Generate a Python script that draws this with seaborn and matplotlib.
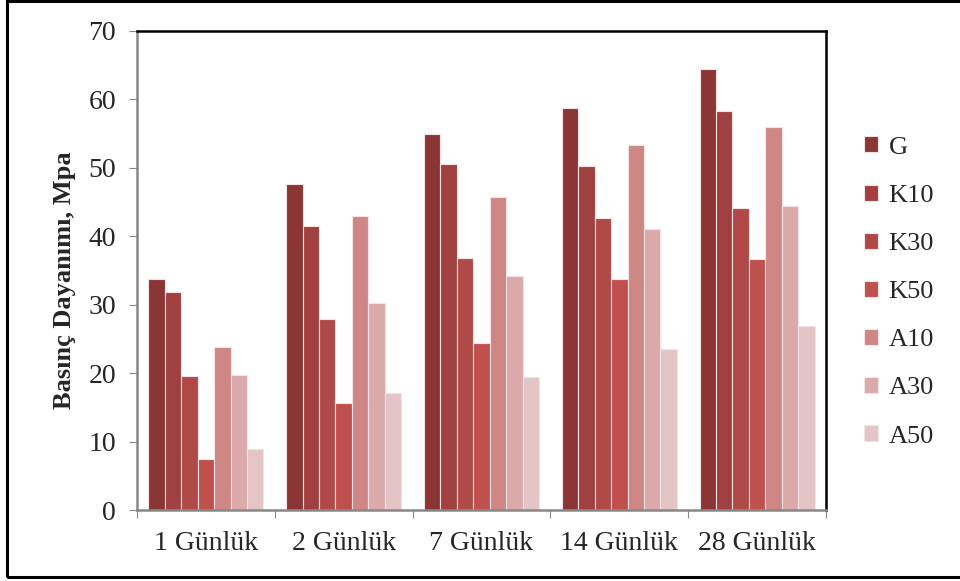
import matplotlib
matplotlib.use("Agg")
import matplotlib.pyplot as plt
import seaborn as sns
import pandas as pd
from matplotlib.patches import Rectangle

# Data
days = ["1 Günlük", "2 Günlük", "7 Günlük", "14 Günlük", "28 Günlük"]
mixes = ["G", "K10", "K30", "K50", "A10", "A30", "A50"]
G = [33.7, 47.6, 54.9, 58.8, 64.4]
K10 = [31.9, 41.5, 50.6, 50.2, 58.3]
K30 = [19.6, 27.9, 36.8, 42.7, 44.2]
K50 = [7.5, 15.6, 24.4, 33.7, 36.7]
A10 = [23.8, 42.9, 45.8, 53.4, 55.9]
A30 = [19.7, 30.2, 34.2, 41.0, 44.4]
A50 = [8.9, 17.1, 19.4, 23.5, 26.9]
colors = ["#8B3535", "#A04040", "#B04A48", "#C0504D", "#CF8786", "#DBA9A9", "#E4C5C6"]

series = [G, K10, K30, K50, A10, A30, A50]
rows = []
for name, vals in zip(mixes, series):
    for d, v in zip(days, vals):
        rows.append({"day": d, "mix": name, "value": v})
df = pd.DataFrame(rows)

sns.set_style("white")
plt.rcParams["font.family"] = ["Liberation Serif", "DejaVu Serif"]

fig = plt.figure(figsize=(9.6, 5.81), dpi=100)
ax = fig.add_axes([137 / 960, 1 - 510 / 581, (826 - 137) / 960, (510 - 31) / 581])

sns.barplot(data=df, x="day", y="value", hue="mix", order=days, hue_order=mixes,
            palette=colors, width=0.835, gap=0, saturation=1, ax=ax,
            edgecolor="#f2e4e4", linewidth=0.8, legend=True)

ax.set_ylim(0, 70)
ax.set_xlim(-0.5, 4.5)
ax.set_yticks(range(0, 71, 10))
ax.tick_params(axis="y", labelsize=20, length=6, color="#888888", direction="out", left=True, pad=9)

# category boundaries as major ticks, labels on minor ticks
ax.set_xticks([i - 0.5 for i in range(6)])
ax.set_xticklabels([])
ax.set_xticks(range(5), minor=True)
ax.set_xticklabels(days, minor=True)
ax.tick_params(axis="x", which="major", length=6, color="#888888", direction="out", bottom=True)
ax.tick_params(axis="x", which="minor", length=0, labelsize=20, pad=15)

ax.set_xlabel("")
ax.set_ylabel("Basınç Dayanımı, Mpa", fontsize=19, fontweight="bold")
ax.yaxis.set_label_coords(-0.088, 0.48)

for s in ["left", "bottom"]:
    ax.spines[s].set_color("#888888")
    ax.spines[s].set_linewidth(1.8)
for s in ["top", "right"]:
    ax.spines[s].set_visible(True)
    ax.spines[s].set_color("black")
    ax.spines[s].set_linewidth(1.8)

leg = ax.legend(loc="center left", bbox_to_anchor=(1.02, 0.455), frameon=False,
                fontsize=19, handlelength=0.55, handleheight=0.55, labelspacing=0.98,
                handletextpad=0.4)

# figure border
fig.patches.append(Rectangle((7 / 960, 1 - 577 / 581), 1.0, 576 / 581, transform=fig.transFigure,
                             fill=False, edgecolor="black", linewidth=2.2))

fig.savefig("out.png", dpi=100)
